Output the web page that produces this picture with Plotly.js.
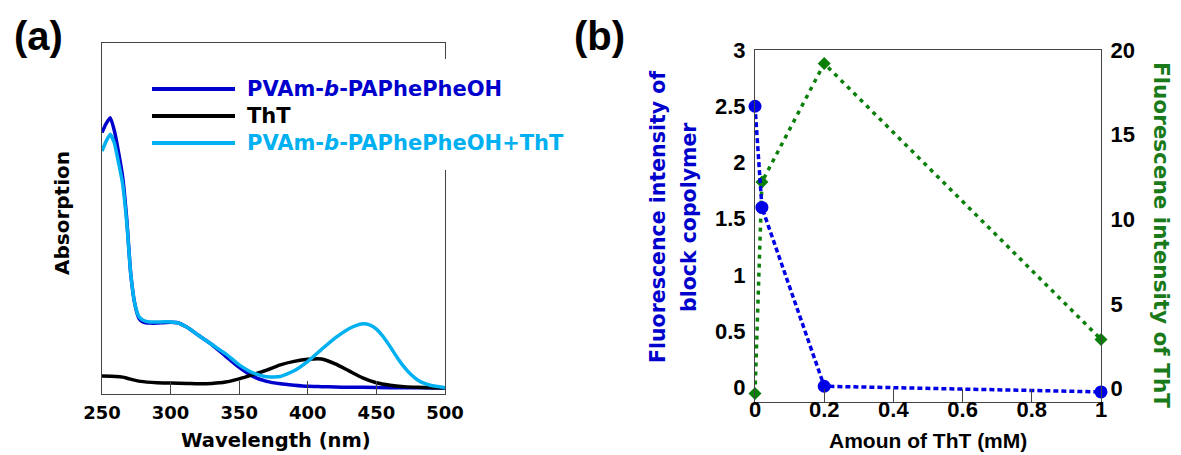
<!DOCTYPE html>
<html>
<head>
<meta charset="utf-8">
<script src="https://cdn.plot.ly/plotly-3.0.1.min.js"></script>
<style>html,body{margin:0;padding:0;background:#fff;}#chart{width:1181px;height:455px;}</style>
</head>
<body>
<div id="chart"></div>
<script>
// ---- Panel (a): absorption spectra (arbitrary units) ----
const wlCopolymer = [250,253,256,259,262,265,268,271,274,277,280,285,290,297,305,312,320,330,340,350,360,370,380,390,400,410,420,430,440,460,480,500];
const absCopolymer = [0.745,0.770,0.787,0.750,0.690,0.620,0.500,0.340,0.255,0.215,0.205,0.202,0.202,0.204,0.203,0.190,0.168,0.141,0.108,0.076,0.050,0.036,0.029,0.025,0.022,0.021,0.020,0.019,0.019,0.018,0.018,0.017];

const wlThT = [250,260,265,270,278,290,300,312,320,330,340,350,360,370,380,390,400,410,420,430,440,450,460,470,480,490,500];
const absThT = [0.051,0.050,0.048,0.043,0.036,0.032,0.031,0.030,0.029,0.030,0.034,0.043,0.055,0.068,0.083,0.093,0.099,0.100,0.086,0.066,0.046,0.032,0.025,0.021,0.019,0.018,0.017];

const wlMix = [250,253,256,259,262,265,268,271,274,277,280,285,290,297,305,312,320,330,340,350,360,370,380,390,400,410,420,430,435,440,445,450,455,460,465,470,475,480,485,490,500];
const absMix = [0.692,0.720,0.740,0.715,0.660,0.600,0.490,0.340,0.255,0.220,0.210,0.205,0.205,0.206,0.203,0.190,0.168,0.141,0.115,0.083,0.060,0.049,0.050,0.066,0.093,0.127,0.160,0.186,0.195,0.200,0.197,0.185,0.163,0.135,0.105,0.078,0.056,0.040,0.030,0.024,0.018];

const wlTicks = [250,300,350,400,450,500];
const legendNames = ["PVAm-<i>b</i>-PAPhePheOH", "ThT", "PVAm-<i>b</i>-PAPhePheOH+ThT"];

// ---- Panel (b): fluorescence vs amount of ThT ----
const amountThT = [0, 0.02, 0.2, 1];
const fluorCopolymer = [2.5, 1.6, 0.01, -0.04];
const fluorThT = [-0.3, 12.2, 19.2, 2.9];
const amountTicks = [0, 0.2, 0.4, 0.6, 0.8, 1];
const amountTickText = ["0","0.2","0.4","0.6","0.8","1"];
const leftTicks = [0, 0.5, 1, 1.5, 2, 2.5, 3];
const leftTickText = ["0","0.5","1","1.5","2","2.5","3"];
const rightTicks = [0, 5, 10, 15, 20];

const cBlue = "#0000cc", cBlack = "#000000", cCyan = "#00b0f0";
const cBlueB = "#0000e6", cGreen = "#0a800a";

const W = 1181, H = 455;
const px = v => v / W;
const py = v => 1 - v / H;

const traces = [
  {x: wlCopolymer, y: absCopolymer, xaxis: "x", yaxis: "y", mode: "lines",
   line: {color: cBlue, width: 3.5, shape: "spline", smoothing: 0.5}, showlegend: false, hoverinfo: "skip"},
  {x: wlThT, y: absThT, xaxis: "x", yaxis: "y", mode: "lines",
   line: {color: cBlack, width: 3.5, shape: "spline", smoothing: 0.5}, showlegend: false, hoverinfo: "skip"},
  {x: wlMix, y: absMix, xaxis: "x", yaxis: "y", mode: "lines",
   line: {color: cCyan, width: 3.5, shape: "spline", smoothing: 0.5}, showlegend: false, hoverinfo: "skip"},
  {x: amountThT, y: fluorThT, xaxis: "x2", yaxis: "y3", mode: "lines+markers", cliponaxis: false,
   line: {color: cGreen, width: 3.5, dash: "4px,5px"},
   marker: {symbol: "diamond", size: 10, color: cGreen}, showlegend: false},
  {x: amountThT, y: fluorCopolymer, xaxis: "x2", yaxis: "y4", mode: "lines+markers", cliponaxis: false,
   line: {color: cBlueB, width: 3.5, dash: "5px,3px"},
   marker: {symbol: "circle", size: 13, color: cBlueB}, showlegend: false}
];

const axLine = "#444";
const tickA = {family: "DejaVu Sans", size: 18, color: "#000", weight: "bold"};
const tickB = {family: "Liberation Sans", size: 22, color: "#000", weight: "bold"};

const layout = {
  width: W, height: H,
  margin: {l: 0, r: 0, t: 0, b: 0},
  paper_bgcolor: "#fff", plot_bgcolor: "#fff",
  showlegend: false,
  xaxis: {domain: [px(102), px(445)], range: [250, 500], anchor: "y",
    tickvals: wlTicks, ticks: "inside", ticklen: 13, tickcolor: axLine, tickwidth: 1,
    showline: true, linecolor: axLine, linewidth: 1, mirror: true,
    showgrid: false, zeroline: false, tickfont: tickA, ticklabelstandoff: 2},
  yaxis: {domain: [1 - 394 / H, 1 - 43 / H], range: [0, 1], anchor: "x",
    showticklabels: false, ticks: "", showline: true, linecolor: axLine, linewidth: 1, mirror: true,
    showgrid: false, zeroline: false},
  xaxis2: {domain: [px(755), px(1101)], range: [0, 1], anchor: "y3",
    tickvals: amountTicks, ticktext: amountTickText, ticks: "inside", ticklen: 13, tickcolor: axLine, tickwidth: 1,
    showline: true, linecolor: axLine, linewidth: 1, mirror: true,
    showgrid: false, zeroline: false, tickfont: tickB, ticklabelstandoff: -12},
  yaxis3: {domain: [1 - 402 / H, 1 - 50 / H], range: [-0.8, 20], anchor: "x2", side: "right",
    tickvals: rightTicks, ticks: "", showline: true, linecolor: axLine, linewidth: 1,
    showgrid: false, zeroline: false, tickfont: tickB, ticklabelstandoff: 4},
  yaxis4: {range: [-0.13, 3], anchor: "x2", side: "left", overlaying: "y3",
    tickvals: leftTicks, ticktext: leftTickText, ticks: "", showline: true, linecolor: axLine, linewidth: 1,
    showgrid: false, zeroline: false, tickfont: tickB, ticklabelstandoff: 4},
  shapes: [
    {type: "rect", xref: "paper", yref: "paper", x0: px(148), x1: px(575), y0: py(170), y1: py(59),
     fillcolor: "#fff", line: {width: 0}, layer: "above"},
    {type: "line", xref: "paper", yref: "paper", x0: px(152), x1: px(235), y0: py(89), y1: py(89),
     line: {color: cBlue, width: 4}, layer: "above"},
    {type: "line", xref: "paper", yref: "paper", x0: px(152), x1: px(235), y0: py(116), y1: py(116),
     line: {color: cBlack, width: 4}, layer: "above"},
    {type: "line", xref: "paper", yref: "paper", x0: px(152), x1: px(235), y0: py(143), y1: py(143),
     line: {color: cCyan, width: 4}, layer: "above"}
  ],
  annotations: [
    {text: "(a)", xref: "paper", yref: "paper", x: px(12), y: py(36), xanchor: "left", yanchor: "middle", showarrow: false,
     font: {family: "Liberation Sans", size: 40, color: "#000", weight: "bold"}},
    {text: "(b)", xref: "paper", yref: "paper", x: px(572), y: py(36), xanchor: "left", yanchor: "middle", showarrow: false,
     font: {family: "Liberation Sans", size: 40, color: "#000", weight: "bold"}},
    {text: "Absorption", xref: "paper", yref: "paper", x: px(62), y: py(213), textangle: -90, showarrow: false,
     xanchor: "center", yanchor: "middle", font: {family: "DejaVu Sans", size: 20, color: "#000", weight: "bold"}},
    {text: "Wavelength (nm)", xref: "paper", yref: "paper", x: px(276), y: py(440), showarrow: false,
     xanchor: "center", yanchor: "middle", font: {family: "DejaVu Sans", size: 19.5, color: "#000", weight: "bold"}},
    {text: legendNames[0], xref: "paper", yref: "paper", x: px(245), y: py(89), xanchor: "left", yanchor: "middle", showarrow: false,
     font: {family: "DejaVu Sans", size: 21, color: cBlue, weight: "bold"}},
    {text: legendNames[1], xref: "paper", yref: "paper", x: px(245), y: py(116), xanchor: "left", yanchor: "middle", showarrow: false,
     font: {family: "DejaVu Sans", size: 21, color: cBlack, weight: "bold"}},
    {text: legendNames[2], xref: "paper", yref: "paper", x: px(245), y: py(143), xanchor: "left", yanchor: "middle", showarrow: false,
     font: {family: "DejaVu Sans", size: 21, color: cCyan, weight: "bold"}},
    {text: "Fluorescence intensity of", xref: "paper", yref: "paper", x: px(658), y: py(217), textangle: -90, showarrow: false,
     xanchor: "center", yanchor: "middle", font: {family: "DejaVu Sans", size: 20.5, color: cBlue, weight: "bold"}},
    {text: "block copolymer", xref: "paper", yref: "paper", x: px(689), y: py(217), textangle: -90, showarrow: false,
     xanchor: "center", yanchor: "middle", font: {family: "DejaVu Sans", size: 20.5, color: cBlue, weight: "bold"}},
    {text: "Amoun of ThT (mM)", xref: "paper", yref: "paper", x: px(928), y: py(440), showarrow: false,
     xanchor: "center", yanchor: "middle", font: {family: "Liberation Sans", size: 21, color: "#000", weight: "bold"}},
    {text: "Fluorescene intensity of ThT", xref: "paper", yref: "paper", x: px(1162), y: py(235), textangle: 90, showarrow: false,
     xanchor: "center", yanchor: "middle", font: {family: "DejaVu Sans", size: 21.5, color: "#1a7a1a", weight: "bold"}}
  ]
};

Plotly.newPlot("chart", traces, layout, {displayModeBar: false, staticPlot: true});
</script>
</body>
</html>
